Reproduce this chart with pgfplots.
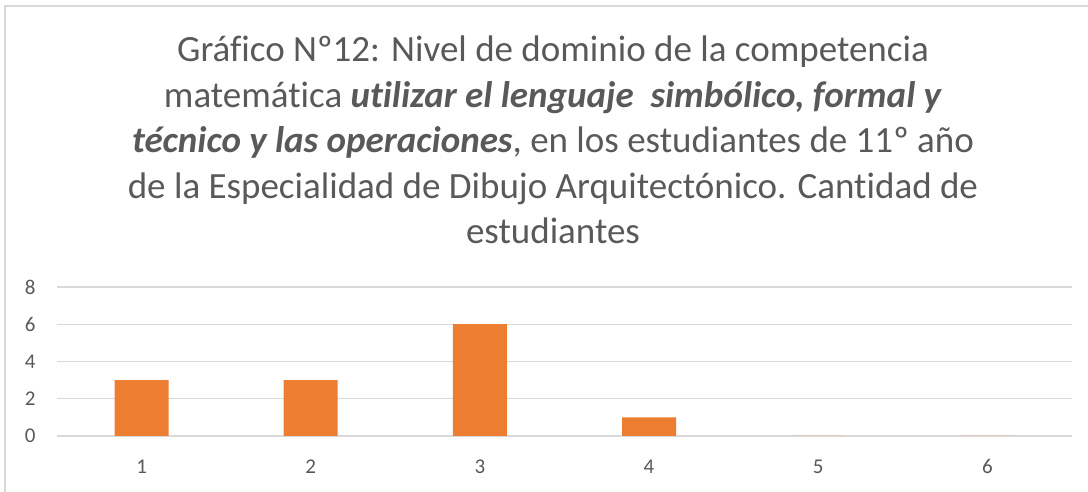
\documentclass[border=0pt]{standalone}
\usepackage{fontspec}
\setmainfont{Carlito}[RawFeature={-liga;-clig;-dlig}]
\usepackage{pgfplots}
\pgfplotsset{compat=1.18}
\definecolor{barorange}{HTML}{ED7D31}
\definecolor{gridgray}{HTML}{D9D9D9}
\definecolor{txtgray}{HTML}{595959}
\begin{document}
\begin{tikzpicture}[x=1pt,y=1pt]
\useasboundingbox (0,0) rectangle (1088,492);
% chart frame (right and bottom edges fall outside the crop)
\draw[gridgray, line width=1.5pt] (5,-20) -- (5,486) -- (1110,486);

% title (base anchor = baseline of the last line)
\node[anchor=base, align=center, text=txtgray, font=\fontsize{37}{45.5}\selectfont]
  at (553,248) {Gráfico Nº12: Nivel de dominio de la competencia\\
  matemática \textbf{\textit{utilizar el lenguaje\ \ simbólico, formal y}}\\
  \textbf{\textit{técnico y las operaciones}}, en los estudiantes de 11º año\\
  de la Especialidad de Dibujo Arquitectónico. Cantidad de\\
  estudiantes};

\begin{axis}[
  at={(57pt,56pt)}, anchor=south west,
  width=1015pt, height=149pt,
  scale only axis,
  xmin=0.5, xmax=6.5,
  ymin=0, ymax=8,
  xtick={1,2,3,4,5,6},
  ytick={0,2,4,6,8},
  ymajorgrids,
  grid style={gridgray, line width=1.4pt},
  axis line style={draw=none},
  major tick length=0pt,
  every tick label/.append style={font=\fontsize{21}{25}\selectfont, text=txtgray},
  /pgf/number format/assume math mode=true,
  yticklabel style={xshift=-18pt},
  xticklabel style={yshift=-20pt},
  ybar, bar width=54pt,
  clip=false,
]
  \addplot[fill=barorange, draw=none] coordinates {
    (1,3) (2,3) (3,6) (4,1) (5,0) (6,0)
  };
\end{axis}
\end{tikzpicture}
\end{document}
